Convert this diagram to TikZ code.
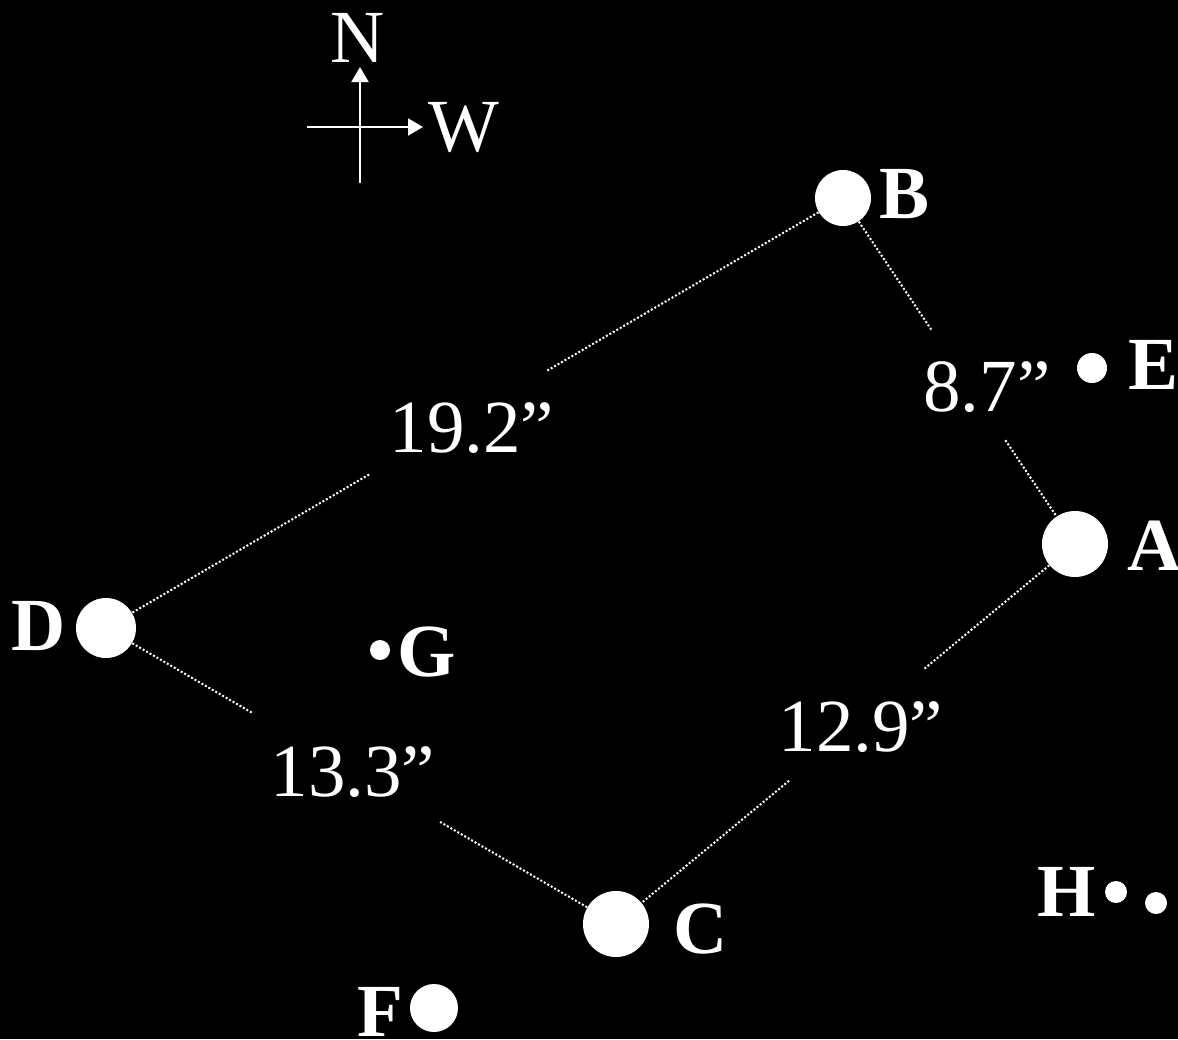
\documentclass[tikz,border=0pt]{standalone}
\usepackage{fontspec}
\setmainfont{Liberation Serif}
\usetikzlibrary{calc,arrows.meta}
\begin{document}
\begin{tikzpicture}[x=0.5pt,y=-0.5pt,
  star/.style={circle,fill=white,draw=none,inner sep=0pt,minimum size=#1},
  lbl/.style={text=white,font=\fontsize{37.5}{40}\selectfont\bfseries,inner sep=0pt},
  dist/.style={text=white,font=\fontsize{37.5}{40}\selectfont,inner sep=0pt},
  sepline/.style={white,line width=1pt,dash pattern=on 1pt off 1pt},
  axis/.style={white,line width=1pt,-{Triangle[length=7.5pt,width=8.5pt]}}]
\fill[black] (0,0) rectangle (1178,1039);
\useasboundingbox (0,0) rectangle (1178,1039);
% compass
\coordinate (sbot) at (360,183);
\coordinate (ntip) at (360,67);
\coordinate (wtail) at (307,127);
\coordinate (wtip) at (423,127);
\draw[axis] (sbot) -- (ntip);
\draw[axis] (wtail) -- (wtip);
\node[dist] (N) at (358,38) {N};
\node[dist] (W) at (464,128) {W};
% stars
\node[star=28pt] (B) at (843,198) {};
\node[star=33pt] (A) at (1075,544) {};
\node[star=30pt] (D) at (106,628) {};
\node[star=33pt] (C) at (616,924) {};
\node[star=24pt] (F) at (434,1008) {};
\node[star=15pt] (E) at (1092,368) {};
\node[star=10pt] (G) at (380,650) {};
\node[star=11pt] (H1) at (1116,892) {};
\node[star=11pt] (H2) at (1156,903) {};
% star labels
\node[lbl] (Blab) at (905,194) {B};
\node[lbl] (Alab) at (1155,546) {A};
\node[lbl] (Dlab) at (39,626) {D};
\node[lbl] (Clab) at (701,929) {C};
\node[lbl] (Elab) at (1153,365) {E};
\node[lbl] (Glab) at (427,652) {G};
\node[lbl] (Hlab) at (1067,892) {H};
\node[lbl] (Flab) at (380,1012) {F};
% separations
\draw[sepline] (B) -- ($(B)!0.403!(D)$);
\draw[sepline] ($(B)!0.643!(D)$) -- (D);
\draw[sepline] (B) -- ($(B)!0.385!(A)$);
\draw[sepline] ($(B)!0.70!(A)$) -- (A);
\draw[sepline] (A) -- ($(A)!0.33!(C)$);
\draw[sepline] ($(A)!0.623!(C)$) -- (C);
\draw[sepline] (D) -- ($(D)!0.287!(C)$);
\draw[sepline] ($(D)!0.655!(C)$) -- (C);
\node[dist] (dBD) at (472,428) {19.2”};
\node[dist] (dBA) at (987,387) {8.7”};
\node[dist] (dAC) at (861,727) {12.9”};
\node[dist] (dDC) at (353,772) {13.3”};
\end{tikzpicture}
\end{document}
